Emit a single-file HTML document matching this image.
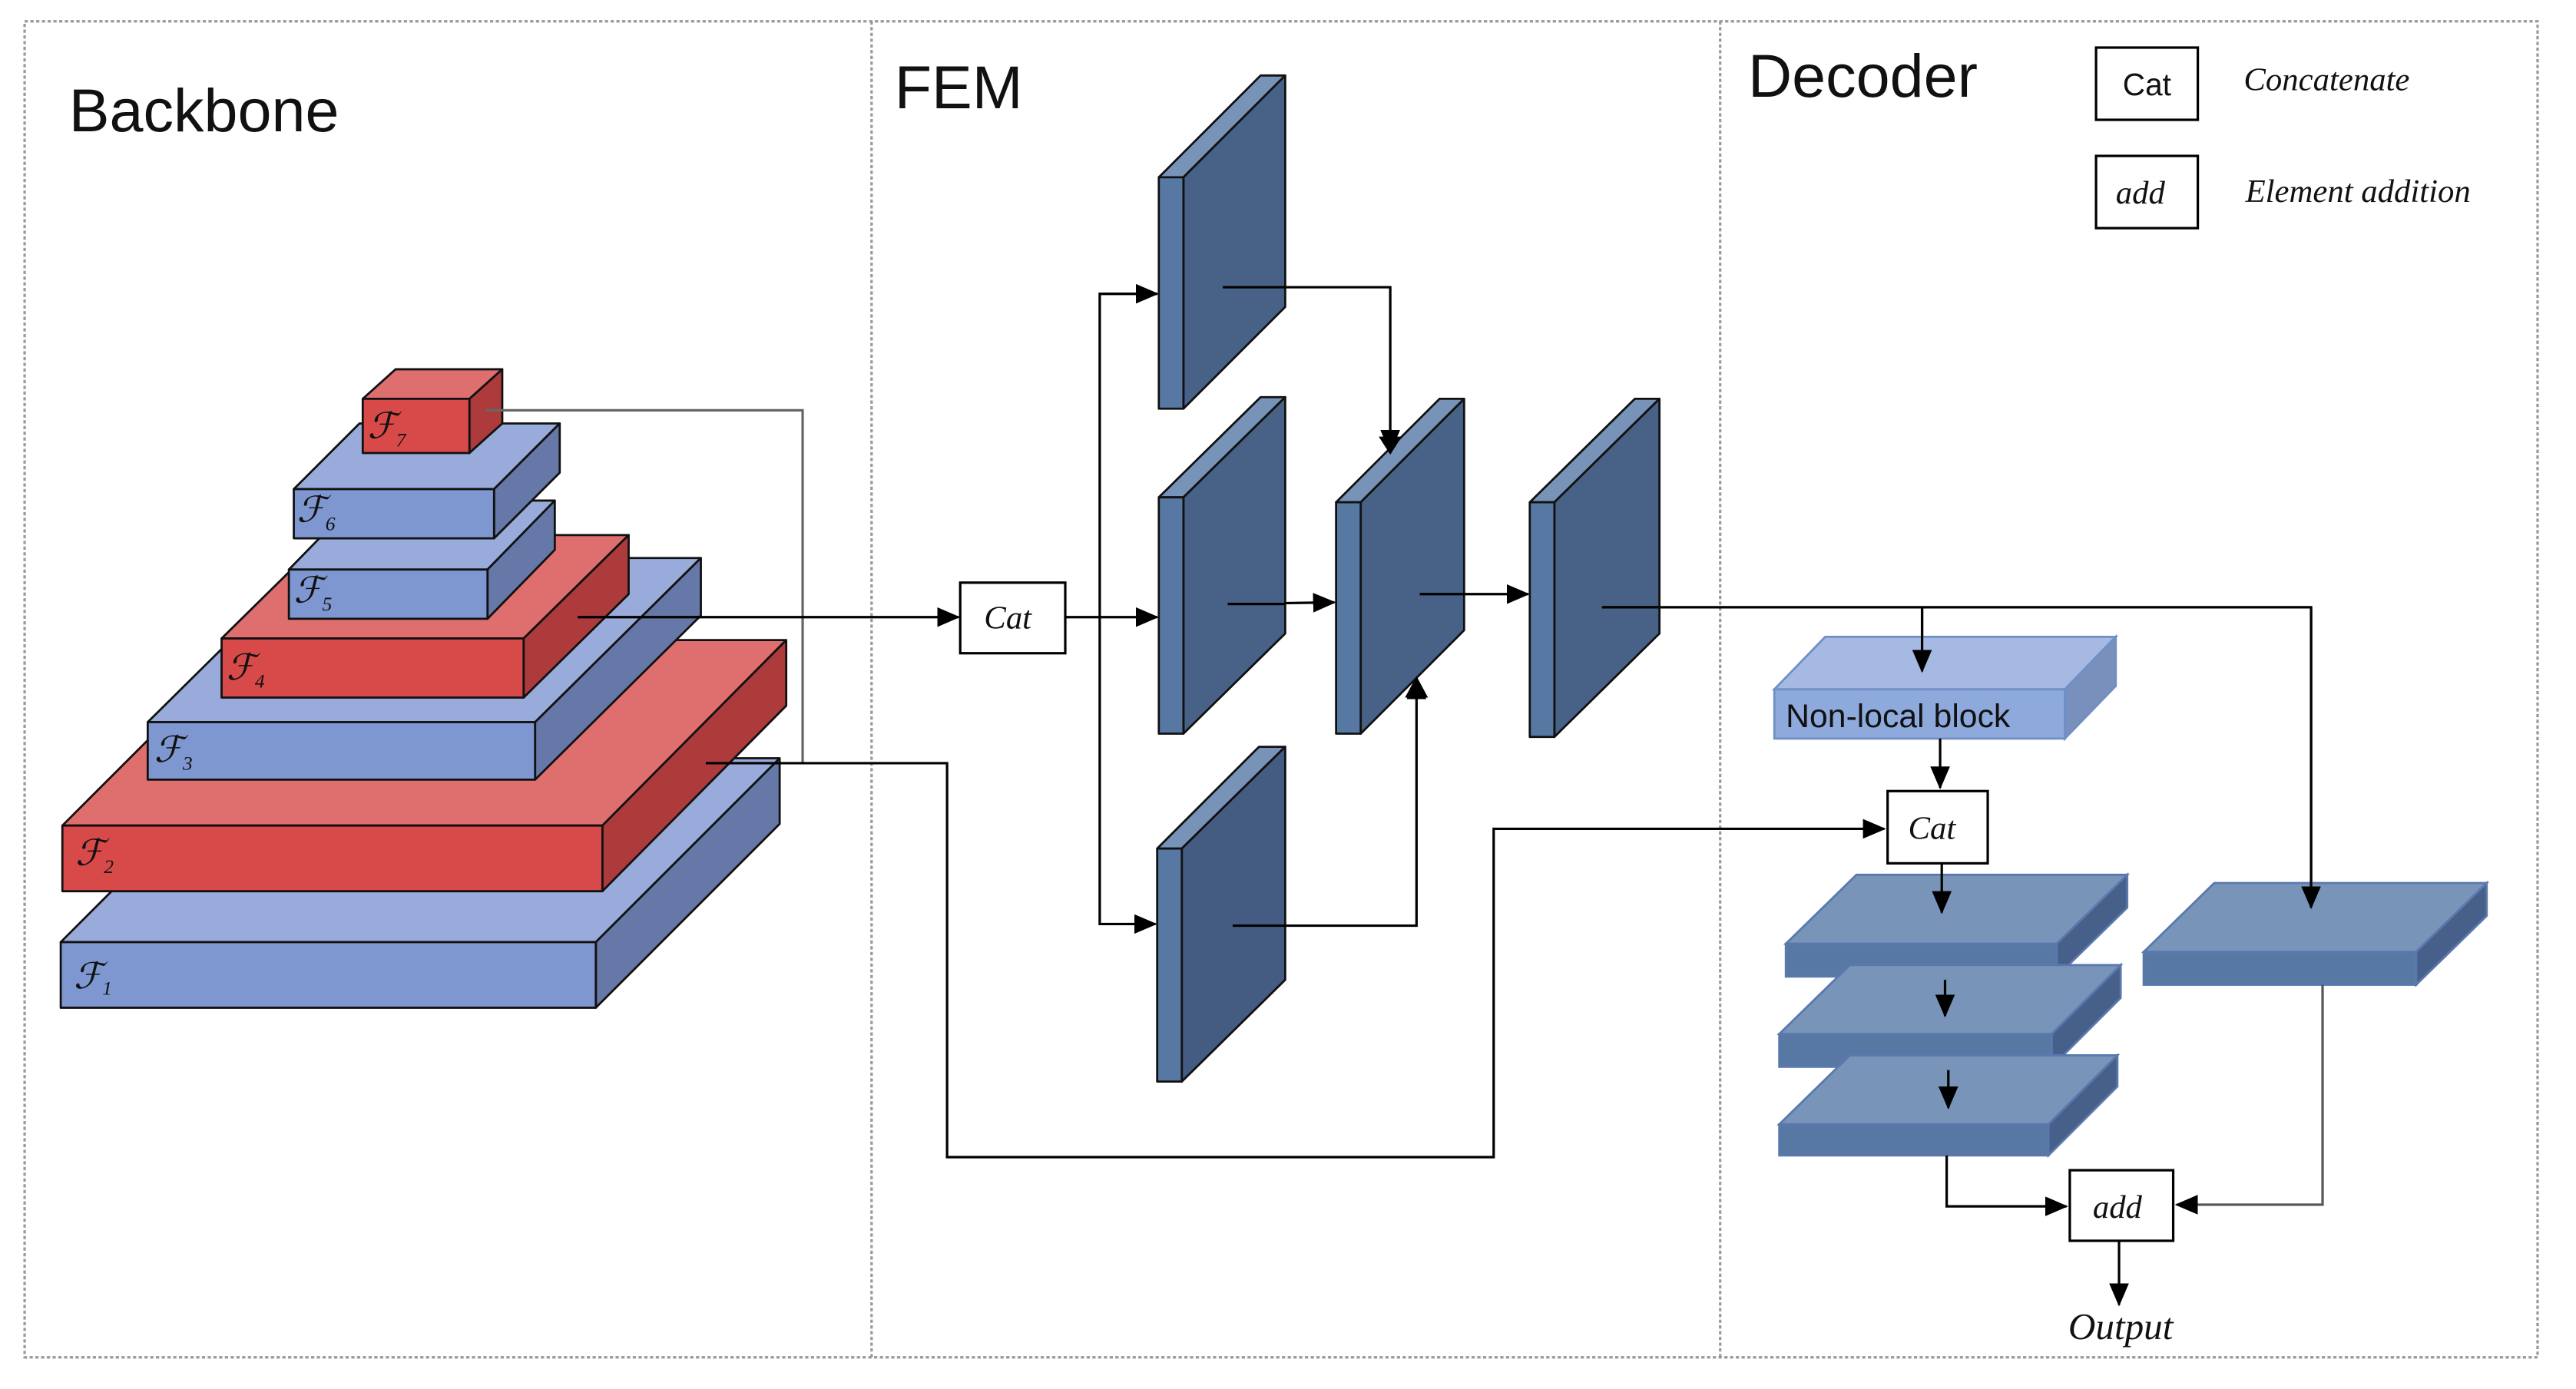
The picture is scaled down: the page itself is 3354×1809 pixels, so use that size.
<!DOCTYPE html>
<html><head><meta charset="utf-8"><style>
html,body{margin:0;padding:0;background:#fff;}
svg{display:block;}
.t{font-family:"Liberation Sans","DejaVu Sans",sans-serif;fill:#111;}
.s{font-family:"Liberation Serif","DejaVu Serif",serif;font-style:italic;fill:#111;}
</style></head><body>
<svg width="3354" height="1809" viewBox="0 0 1569.4 846.3" preserveAspectRatio="none" xmlns="http://www.w3.org/2000/svg">
<defs>
<marker id="b" markerWidth="14" markerHeight="12" refX="13" refY="6" orient="auto" markerUnits="userSpaceOnUse">
<path d="M0,0 L14,6 L0,12 z" fill="#000"/></marker>
</defs>
<g fill="none" stroke="#999" stroke-width="1.5" stroke-dasharray="2,1.5">
<rect x="15" y="13" width="1531" height="814"/>
<line x1="531" y1="13" x2="531" y2="827"/>
<line x1="1048" y1="13" x2="1048" y2="827"/>
</g>
<text class="t" x="42" y="80" font-size="37">Backbone</text>
<text class="t" x="545" y="66" font-size="37">FEM</text>
<text class="t" x="1065" y="59" font-size="37">Decoder</text>
<rect x="1277" y="29" width="62" height="44" fill="#fff" stroke="#000" stroke-width="1.5"/>
<text class="t" x="1308" y="58" font-size="19" text-anchor="middle">Cat</text>
<text class="s" x="1367" y="55" font-size="20">Concatenate</text>
<rect x="1277" y="95" width="62" height="44" fill="#fff" stroke="#000" stroke-width="1.5"/>
<text class="s" x="1304" y="124" font-size="20" text-anchor="middle">add</text>
<text class="s" x="1368" y="123" font-size="20">Element addition</text>

<g stroke="#111" stroke-width="1.3" stroke-linejoin="round">
<polygon points="37,574 149,462 475,462 363,574" fill="#98abda"/>
<polygon points="363,574 475,462 475,502 363,614" fill="#6678a8"/>
<rect x="37" y="574" width="326" height="40" fill="#7f97d1"/>
<polygon points="38,503 151,390 479,390 367,503" fill="#df6f6f"/>
<polygon points="367,503 479,390 479,430 367,543" fill="#ad3b3b"/>
<rect x="38" y="503" width="329" height="40" fill="#d84a4a"/>
<polygon points="90,440 191,340 427,340 326,440" fill="#98abda"/>
<polygon points="326,440 427,340 427,375 326,475" fill="#6678a8"/>
<rect x="90" y="440" width="236" height="35" fill="#7f97d1"/>
<polygon points="135,389 199,326 383,326 319,389" fill="#df6f6f"/>
<polygon points="319,389 383,326 383,362 319,425" fill="#ad3b3b"/>
<rect x="135" y="389" width="184" height="36" fill="#d84a4a"/>
<polygon points="176,347 217,305 338,305 297,347" fill="#98abda"/>
<polygon points="297,347 338,305 338,335 297,377" fill="#6678a8"/>
<rect x="176" y="347" width="121" height="30" fill="#7f97d1"/>
<polygon points="179,298 219,258 341,258 301,298" fill="#98abda"/>
<polygon points="301,298 341,258 341,288 301,328" fill="#6678a8"/>
<rect x="179" y="298" width="122" height="30" fill="#7f97d1"/>
<polygon points="221,243 241,225 306,225 286,243" fill="#df6f6f"/>
<polygon points="286,243 306,225 306,258 286,276" fill="#ad3b3b"/>
<rect x="221" y="243" width="65" height="33" fill="#d84a4a"/>
</g>
<g class="s" font-size="22">
<text x="45" y="602">ℱ<tspan font-size="12" dy="4">1</tspan></text>
<text x="46" y="527">ℱ<tspan font-size="12" dy="5">2</tspan></text>
<text x="94" y="464">ℱ<tspan font-size="12" dy="5">3</tspan></text>
<text x="138" y="414">ℱ<tspan font-size="12" dy="5">4</tspan></text>
<text x="179" y="367">ℱ<tspan font-size="12" dy="5">5</tspan></text>
<text x="181" y="318">ℱ<tspan font-size="12" dy="5">6</tspan></text>
<text x="224" y="267">ℱ<tspan font-size="12" dy="5">7</tspan></text>
</g>

<g fill="none" stroke="#000" stroke-width="1.5">
<polyline points="296,250 489,250 489,465" stroke="#666"/>
<polyline points="430,465 577,465 577,705 910,705 910,505 1148,505" marker-end="url(#b)"/>
<line x1="352" y1="376" x2="584" y2="376" marker-end="url(#b)"/>
<line x1="649" y1="376" x2="705" y2="376" marker-end="url(#b)"/>
<polyline points="705,179 670,179 670,563 704,563" marker-end="url(#b)"/>
<line x1="670" y1="179" x2="705" y2="179" marker-end="url(#b)"/>
<polyline points="745,175 847,175 847,275" marker-end="url(#b)"/>
<line x1="748" y1="368" x2="813" y2="367" marker-end="url(#b)"/>
<polyline points="751,564 863,564 863,413" marker-end="url(#b)"/>
<line x1="865" y1="362" x2="931" y2="362" marker-end="url(#b)"/>
<polyline points="976,370 1408,370 1408,553" marker-end="url(#b)"/>
<line x1="1171" y1="370" x2="1171" y2="410" marker-end="url(#b)"/>
</g>

<rect x="585" y="355" width="64" height="43" fill="#fff" stroke="#000" stroke-width="1.5"/>
<text class="s" x="614" y="383" font-size="20" text-anchor="middle">Cat</text>

<g stroke="#111" stroke-width="1.3" stroke-linejoin="round">
<polygon points="706,108 768,46 783,46 721,108" fill="#7793b8"/>
<polygon points="721,108 783,46 783,187 721,249" fill="#476286"/>
<rect x="706" y="108" width="15" height="141" fill="#5878a4"/>
<polygon points="706,303 768,242 783,242 721,303" fill="#7793b8"/>
<polygon points="721,303 783,242 783,386 721,447" fill="#476286"/>
<rect x="706" y="303" width="15" height="144" fill="#5878a4"/>
<polygon points="705,517 767,455 783,455 720,517" fill="#7793b8"/>
<polygon points="720,517 783,455 783,597 720,659" fill="#445c82"/>
<rect x="705" y="517" width="15" height="142" fill="#5878a4"/>
<polygon points="814,306 877,243 892,243 829,306" fill="#7793b8"/>
<polygon points="829,306 892,243 892,384 829,447" fill="#476286"/>
<rect x="814" y="306" width="15" height="141" fill="#5878a4"/>
<polygon points="932,306 996,243 1011,243 947,306" fill="#7793b8"/>
<polygon points="947,306 1011,243 1011,386 947,449" fill="#476286"/>
<rect x="932" y="306" width="15" height="143" fill="#5878a4"/>
</g>
<g fill="none" stroke="#000" stroke-width="1.5">
<line x1="745" y1="175" x2="783" y2="175"/>
<line x1="748" y1="368" x2="783" y2="368"/>
<line x1="751" y1="564" x2="783" y2="564"/>
<line x1="865" y1="362" x2="892" y2="362"/>
<line x1="976" y1="370" x2="1011" y2="370"/>
</g>
<g fill="#000">
<path d="M840,266 L854,266 L847,277 z"/>
<path d="M856,425 L870,425 L863,412 z"/>
</g>

<g stroke="#6f8fc6" stroke-width="1.3">
<polygon points="1081,420 1112,388 1289,388 1258,420" fill="#a5b9e3"/>
<polygon points="1258,420 1289,388 1289,418 1258,450" fill="#7890bb"/>
<rect x="1081" y="420" width="177" height="30" fill="#8ea9dc"/>
</g>
<text class="t" x="1088" y="443" font-size="20">Non-local block</text>
<line x1="1171" y1="370" x2="1171" y2="409" stroke="#000" stroke-width="1.5" marker-end="url(#b)"/>
<line x1="1182" y1="450" x2="1182" y2="480" stroke="#000" stroke-width="1.5" marker-end="url(#b)"/>
<rect x="1150" y="482" width="61" height="44" fill="#fff" stroke="#000" stroke-width="1.5"/>
<text class="s" x="1177" y="511" font-size="20" text-anchor="middle">Cat</text>

<g stroke="#5a78ae" stroke-width="1.3">
<polygon points="1088,575 1131,533 1296,533 1253,575" fill="#7894b8"/>
<polygon points="1253,575 1296,533 1296,553 1253,595" fill="#46608a"/>
<rect x="1088" y="575" width="165" height="20" fill="#5878a4"/>
<polygon points="1084,630 1127,588 1292,588 1250,630" fill="#7894b8"/>
<polygon points="1250,630 1292,588 1292,608 1250,650" fill="#46608a"/>
<rect x="1084" y="630" width="166" height="20" fill="#5878a4"/>
<polygon points="1084,685 1127,643 1290,643 1248,685" fill="#7894b8"/>
<polygon points="1248,685 1290,643 1290,662 1248,704" fill="#46608a"/>
<rect x="1084" y="685" width="164" height="19" fill="#5878a4"/>
<polygon points="1306,580 1349,538 1515,538 1472,580" fill="#7894b8"/>
<polygon points="1472,580 1515,538 1515,558 1472,600" fill="#46608a"/>
<rect x="1306" y="580" width="166" height="20" fill="#5878a4"/>
</g>
<g fill="none" stroke="#000" stroke-width="1.5">
<line x1="1183" y1="526" x2="1183" y2="556" marker-end="url(#b)"/>
<line x1="1185" y1="597" x2="1185" y2="619" marker-end="url(#b)"/>
<line x1="1187" y1="652" x2="1187" y2="675" marker-end="url(#b)"/>
<line x1="1408" y1="370" x2="1408" y2="553" marker-end="url(#b)"/>
<polyline points="1186,704 1186,735 1259,735" marker-end="url(#b)"/>
<polyline points="1415,600 1415,734 1326,734" stroke="#555" marker-end="url(#b)"/>
<line x1="1291" y1="756" x2="1291" y2="795" marker-end="url(#b)"/>
</g>
<rect x="1261" y="713" width="63" height="43" fill="#fff" stroke="#000" stroke-width="1.5"/>
<text class="s" x="1290" y="742" font-size="20" text-anchor="middle">add</text>
<text class="s" x="1292" y="816" font-size="23" text-anchor="middle">Output</text>
</svg>
</body></html>
